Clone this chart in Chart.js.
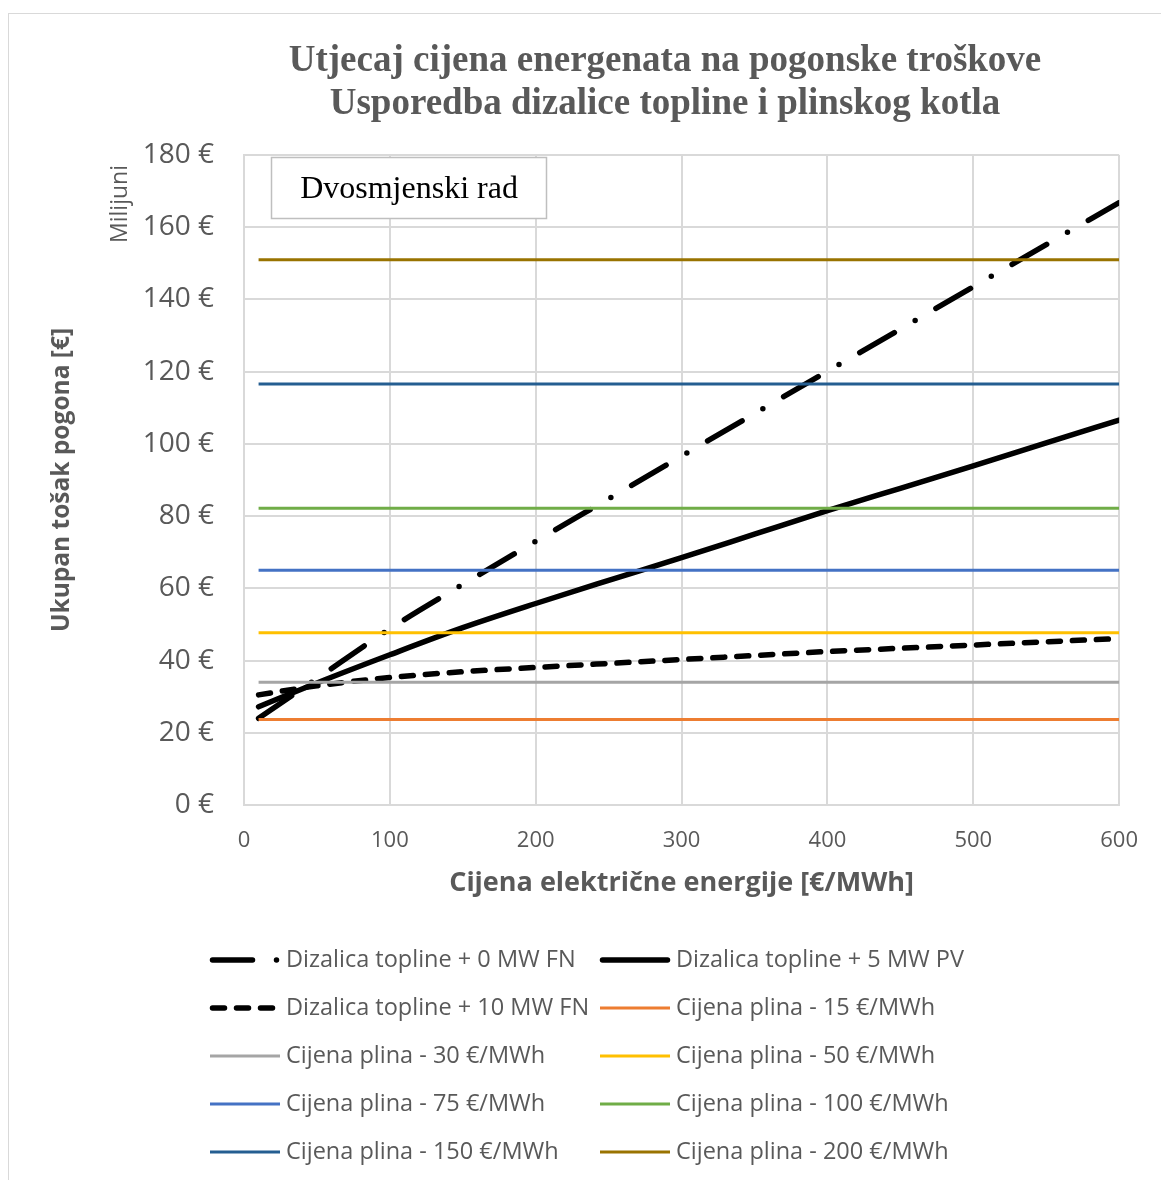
<!DOCTYPE html>
<html>
<head>
<meta charset="utf-8">
<script src="https://cdn.jsdelivr.net/npm/chart.js@4.4.0/dist/chart.umd.min.js"></script>
<style>
  html, body { margin: 0; padding: 0; background: #fff; overflow: hidden; }
  #okvir { position: absolute; left: 8px; top: 13px; width: 1200px; height: 1250px; border: 1.5px solid #d9d9d9; }
  #wrap { position: absolute; left: 0; top: 0; width: 1161px; height: 1180px; }
</style>
</head>
<body>
<div id="okvir"></div>
<div id="wrap"><canvas id="grafikon"></canvas></div>
<script>
// cijena električne energije [€/MWh]
const cijenaStruje = [10, 50, 100, 150, 200, 250, 300, 350, 400, 450, 500, 550, 600];

// ukupni trošak dizalice topline [mil. €]
const dt0MW  = [24.0, 35.0, 48.8, 61.1, 73.0, 84.8, 96.6, 108.4, 120.1, 131.8, 143.5, 155.2, 166.8];
const dt5MW  = [27.2, 33.8, 41.6, 49.1, 55.8, 62.2, 68.5, 75.0, 81.5, 87.7, 93.9, 100.3, 106.6];
const dt10MW = [30.5, 33.0, 35.3, 36.9, 38.1, 39.2, 40.3, 41.4, 42.5, 43.4, 44.3, 45.2, 46.1];

const dtNazivi = ['Dizalica topline + 0 MW FN', 'Dizalica topline + 5 MW PV', 'Dizalica topline + 10 MW FN'];
const dtVrijednosti = [dt0MW, dt5MW, dt10MW];

// plinski kotao - trošak ne ovisi o cijeni struje [mil. €]
const cijenePlina = [15, 30, 50, 75, 100, 150, 200];
const trosakPlin  = [23.7, 34.0, 47.7, 65.0, 82.2, 116.6, 151.0];

const yTickovi = [0, 20, 40, 60, 80, 100, 120, 140, 160, 180];
const xTickovi = [0, 100, 200, 300, 400, 500, 600];

const naslov = ['Utjecaj cijena energenata na pogonske troškove', 'Usporedba dizalice topline i plinskog kotla'];

// stilovi
const dtCrtkanje = [[40, 24, 0, 24], [], [12, 12]];
const bojePlin = ['#ED7D31', '#A5A5A5', '#FFC000', '#4472C4', '#70AD47', '#255E91', '#997300'];
const SIVA = '#595959';

const datasets = [];
dtNazivi.forEach((naziv, i) => {
  datasets.push({
    label: naziv,
    data: cijenaStruje.map((c, k) => ({ x: c, y: dtVrijednosti[i][k] })),
    borderColor: '#000',
    borderWidth: 5.5,
    borderDash: dtCrtkanje[i],
    borderCapStyle: 'round',
    borderJoinStyle: 'round',
    cubicInterpolationMode: 'monotone',
    pointRadius: 0,
    order: 1
  });
});
cijenePlina.forEach((p, i) => {
  const prvi = cijenaStruje[0], zadnji = cijenaStruje[cijenaStruje.length - 1];
  datasets.push({
    label: `Cijena plina - ${p} €/MWh`,
    data: [{ x: prvi, y: trosakPlin[i] }, { x: zadnji, y: trosakPlin[i] }],
    borderColor: bojePlin[i],
    borderWidth: 3,
    pointRadius: 0,
    order: 0
  });
});

// naslov, legenda u dva stupca, okvir s tekstom i oznaka "Milijuni"
const dodaci = {
  id: 'dodaci',
  afterDraw(chart) {
    const ctx = chart.ctx;
    ctx.save();
    ctx.textAlign = 'center';
    ctx.textBaseline = 'middle';

    // naslov
    ctx.fillStyle = SIVA;
    ctx.font = 'bold 37px "Liberation Serif", "Times New Roman", serif';
    naslov.forEach((red, i) => ctx.fillText(red, 665, 61 + i * 43));

    // okvir "Dvosmjenski rad"
    ctx.fillStyle = '#fff';
    ctx.fillRect(271, 157, 276, 62);
    ctx.strokeStyle = '#bfbfbf';
    ctx.lineWidth = 1.5;
    ctx.strokeRect(271.5, 157.5, 275, 61);
    ctx.fillStyle = '#000';
    ctx.font = '32px "Liberation Serif", "Times New Roman", serif';
    ctx.fillText('Dvosmjenski rad', 409, 190);

    // Milijuni
    ctx.save();
    ctx.translate(120, 204);
    ctx.rotate(-Math.PI / 2);
    ctx.fillStyle = SIVA;
    ctx.font = '23px "Open Sans", sans-serif';
    ctx.fillText('Milijuni', 0, 0);
    ctx.restore();

    // legenda
    ctx.textAlign = 'left';
    ctx.font = '23.5px "Open Sans", sans-serif';
    chart.data.datasets.forEach((ds, i) => {
      const stupac = i % 2, red = Math.floor(i / 2);
      const x0 = stupac === 0 ? 210 : 600;
      const y = 960 + red * 48;
      ctx.beginPath();
      ctx.strokeStyle = ds.borderColor;
      ctx.lineWidth = ds.borderWidth;
      ctx.setLineDash(ds.borderDash || []);
      ctx.lineCap = ds.borderCapStyle || 'butt';
      const pomak = ctx.lineCap === 'round' ? 2.5 : 0;
      ctx.moveTo(x0 + pomak, y);
      ctx.lineTo(x0 + 70 - pomak, y);
      ctx.stroke();
      ctx.setLineDash([]);
      ctx.fillStyle = SIVA;
      ctx.fillText(ds.label, x0 + 76, y);
    });
    ctx.restore();
  }
};

new Chart(document.getElementById('grafikon'), {
  type: 'line',
  data: { datasets },
  plugins: [dodaci],
  options: {
    responsive: true,
    maintainAspectRatio: false,
    animation: false,
    layout: { padding: { left: 0, right: 36, top: 155, bottom: 265 } },
    plugins: {
      legend: { display: false },
      tooltip: { enabled: false },
      title: { display: false }
    },
    scales: {
      x: {
        type: 'linear',
        min: 0,
        max: 600,
        afterBuildTicks: s => { s.ticks = xTickovi.map(v => ({ value: v })); },
        ticks: { color: SIVA, font: { family: '"Open Sans", sans-serif', size: 22 }, padding: 23 },
        grid: { color: '#d9d9d9', lineWidth: 2, drawTicks: false },
        border: { color: '#d9d9d9', width: 2 },
        title: {
          display: true,
          text: 'Cijena električne energije [€/MWh]',
          color: SIVA,
          font: { family: '"Open Sans", sans-serif', size: 27, weight: 'bold' },
          padding: { top: 2, bottom: 15 }
        },
        afterFit: s => { s.height = 110; }
      },
      y: {
        min: 0,
        max: 180,
        afterBuildTicks: s => { s.ticks = yTickovi.map(v => ({ value: v })); },
        ticks: { color: SIVA, font: { family: '"Open Sans", sans-serif', size: 28 }, padding: 30, callback: v => v + ' €' },
        grid: { color: '#d9d9d9', lineWidth: 2, drawTicks: false },
        border: { color: '#d9d9d9', width: 2 },
        title: {
          display: true,
          text: 'Ukupan tošak pogona [€]',
          color: SIVA,
          font: { family: '"Open Sans", sans-serif', size: 24.5, weight: 'bold' },
          padding: { top: 47, bottom: 0 }
        },
        afterFit: s => { s.width = 244; }
      }
    }
  }
});
</script>
</body>
</html>
